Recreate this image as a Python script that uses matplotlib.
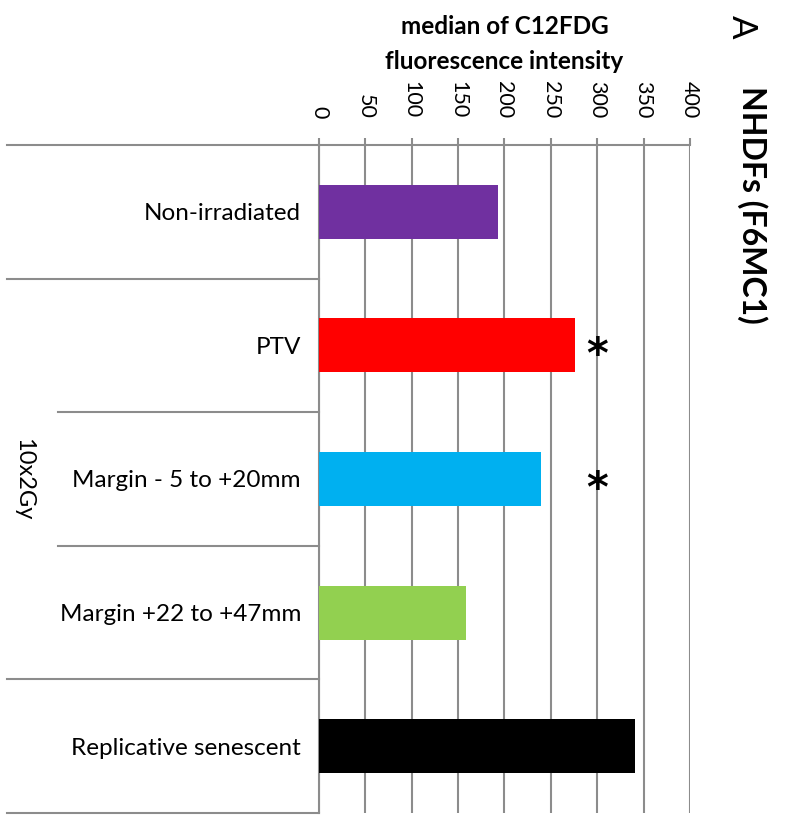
import matplotlib
matplotlib.use("Agg")
import matplotlib.pyplot as plt
import matplotlib.transforms as mtransforms

plt.rcParams['font.family'] = ['Lato', 'DejaVu Sans']

categories = ["Non-irradiated", "PTV", "Margin - 5 to +20mm", "Margin +22 to +47mm", "Replicative senescent"]
values = [193, 276, 239, 158, 341]
colors = ["#7030A0", "#FF0000", "#00B0F0", "#92D050", "#000000"]
significant = [False, True, True, False, False]
star_x = 300
xticks = [0, 50, 100, 150, 200, 250, 300, 350, 400]
group_label = "10x2Gy"
group_members = [1, 2, 3]
xlabel = "median of C12FDG\nfluorescence intensity"
title = "NHDFs (F6MC1)"
panel = "A"

GRID = "#8c8c8c"

fig = plt.figure(figsize=(7.87, 8.19), dpi=100)
ax = fig.add_axes([0.4053, 0.0073, 0.4714, 0.8157])

ypos = list(range(len(categories)))
ax.barh(ypos, values, height=0.405, color=colors, zorder=3)
ax.set_ylim(len(categories) - 0.5, -0.5)
ax.set_xlim(0, 400)

ax.set_xticks(xticks)
ax.xaxis.set_ticks_position('top')
ax.xaxis.set_label_position('top')
ax.tick_params(axis='x', direction='out', length=5, width=1.5, color=GRID,
               labelsize=15.5, pad=14, labelrotation=-90)
for lab in ax.get_xticklabels():
    lab.set_va('bottom')
    lab.set_ha('center')
ax.grid(axis='x', color=GRID, linewidth=1.5, zorder=0)

ax.set_yticks(ypos)
ax.set_yticklabels(categories, fontsize=17.5)
ax.tick_params(axis='y', length=0, pad=13)

for s in ['right', 'bottom']:
    ax.spines[s].set_visible(False)
for s in ['left', 'top']:
    ax.spines[s].set_color(GRID)
    ax.spines[s].set_linewidth(1.5)

ax.set_xlabel(xlabel, fontsize=17.5, fontweight='bold', linespacing=1.6)
ax.xaxis.set_label_coords(0.5, 1.114)

# separator lines between categories
trans = mtransforms.blended_transform_factory(ax.transAxes, ax.transData)
bounds = [i - 0.5 for i in range(len(categories) + 1)]
inner = set()
for a, b in zip(group_members[:-1], group_members[1:]):
    inner.add(a + 0.5)
for yb in bounds:
    x0 = -0.703 if yb in inner else -0.841
    ax.plot([x0, 0], [yb, yb], transform=trans, color=GRID, linewidth=1.5,
            clip_on=False, zorder=4)

gcenter = sum(group_members) / len(group_members)
ax.text(-0.797, gcenter, group_label, transform=trans, rotation=-90,
        ha='center', va='center', fontsize=17)

for i, sig in enumerate(significant):
    if sig:
        ax.annotate("*", xy=(star_x, i), xytext=(0, -8), textcoords='offset points',
                    ha='center', va='center', fontsize=30, fontweight='bold',
                    family=['DejaVu Sans'], zorder=5)

fig.text(752 / 787, 1 - 205 / 819, title, rotation=-90, ha='center', va='center',
         fontsize=23, fontweight='bold')
fig.text(742 / 787, 1 - 27 / 819, panel, rotation=-90, ha='center', va='center',
         fontsize=25)

fig.savefig("out.png", dpi=100)
